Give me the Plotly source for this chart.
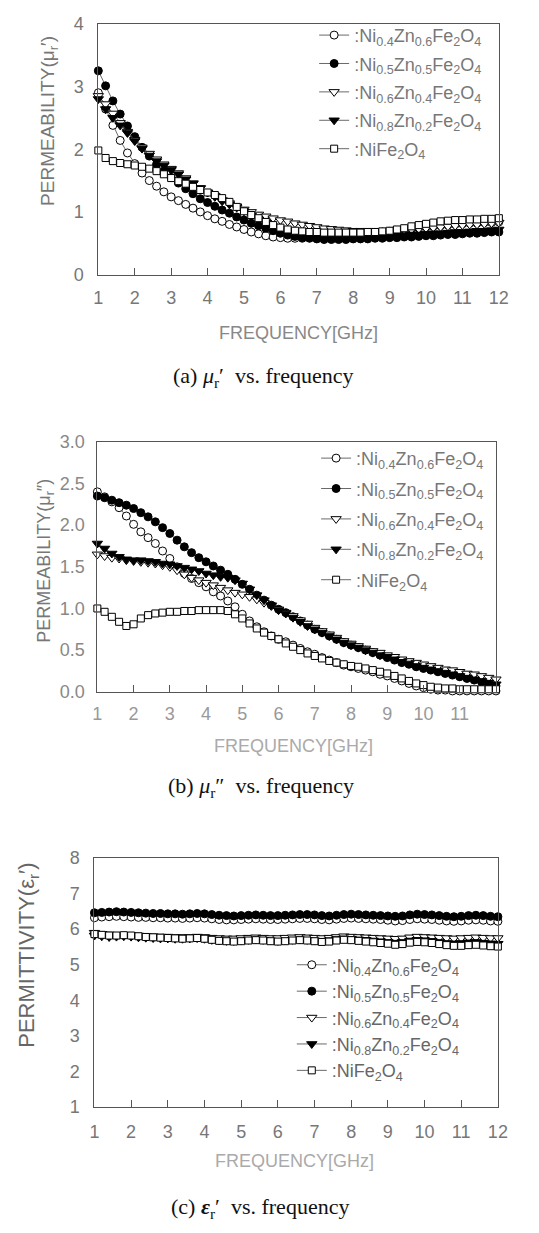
import plotly.graph_objects as go

W, H = 539, 1233

freq = [1.0, 1.2, 1.4, 1.6, 1.8, 2.0, 2.2, 2.4, 2.6, 2.8,
        3.0, 3.2, 3.4, 3.6, 3.8, 4.0, 4.2, 4.4, 4.6, 4.8,
        5.0, 5.2, 5.4, 5.6, 5.8, 6.0, 6.2, 6.4, 6.6, 6.8,
        7.0, 7.2, 7.4, 7.6, 7.8, 8.0, 8.2, 8.4, 8.6, 8.8,
        9.0, 9.2, 9.4, 9.6, 9.8, 10.0, 10.2, 10.4, 10.6, 10.8,
        11.0, 11.2, 11.4, 11.6, 11.8, 12.0]

names = [":Ni<sub>0.4</sub>Zn<sub>0.6</sub>Fe<sub>2</sub>O<sub>4</sub>",
         ":Ni<sub>0.5</sub>Zn<sub>0.5</sub>Fe<sub>2</sub>O<sub>4</sub>",
         ":Ni<sub>0.6</sub>Zn<sub>0.4</sub>Fe<sub>2</sub>O<sub>4</sub>",
         ":Ni<sub>0.8</sub>Zn<sub>0.2</sub>Fe<sub>2</sub>O<sub>4</sub>",
         ":NiFe<sub>2</sub>O<sub>4</sub>"]

# (a) mu_r'
mu1_ni04 = [2.90, 2.64, 2.38, 2.14, 1.94, 1.77, 1.62, 1.50, 1.41, 1.32,
            1.24, 1.18, 1.12, 1.06, 1.00, 0.94, 0.89, 0.85, 0.80, 0.76,
            0.72, 0.68, 0.65, 0.62, 0.60, 0.59, 0.58, 0.58, 0.58, 0.59,
            0.60, 0.61, 0.62, 0.63, 0.64, 0.64, 0.65, 0.66, 0.67, 0.68,
            0.69, 0.70, 0.71, 0.73, 0.74, 0.76, 0.77, 0.78, 0.79, 0.80,
            0.81, 0.82, 0.82, 0.83, 0.83, 0.84]
mu1_ni05 = [3.25, 3.01, 2.77, 2.56, 2.37, 2.20, 2.03, 1.89, 1.76, 1.65,
            1.55, 1.46, 1.37, 1.29, 1.21, 1.15, 1.09, 1.03, 0.98, 0.92,
            0.87, 0.82, 0.78, 0.74, 0.70, 0.66, 0.63, 0.61, 0.59, 0.58,
            0.57, 0.56, 0.56, 0.56, 0.56, 0.57, 0.57, 0.57, 0.58, 0.58,
            0.59, 0.59, 0.60, 0.60, 0.61, 0.62, 0.62, 0.63, 0.64, 0.64,
            0.65, 0.66, 0.66, 0.67, 0.68, 0.68]
mu1_ni06 = [2.85, 2.72, 2.57, 2.42, 2.28, 2.15, 2.03, 1.93, 1.84, 1.76,
            1.69, 1.62, 1.54, 1.46, 1.38, 1.31, 1.26, 1.19, 1.14, 1.09,
            1.04, 1.00, 0.96, 0.93, 0.90, 0.87, 0.85, 0.82, 0.80, 0.78,
            0.76, 0.74, 0.73, 0.72, 0.71, 0.70, 0.70, 0.70, 0.70, 0.70,
            0.70, 0.71, 0.71, 0.72, 0.73, 0.74, 0.75, 0.76, 0.77, 0.78,
            0.79, 0.80, 0.80, 0.81, 0.82, 0.83]
mu1_ni08 = [2.80, 2.64, 2.50, 2.38, 2.26, 2.13, 2.01, 1.90, 1.81, 1.74,
            1.67, 1.60, 1.52, 1.45, 1.38, 1.31, 1.24, 1.17, 1.12, 1.07,
            1.01, 0.94, 0.88, 0.83, 0.77, 0.72, 0.68, 0.65, 0.63, 0.62,
            0.61, 0.60, 0.60, 0.60, 0.60, 0.60, 0.60, 0.60, 0.61, 0.61,
            0.62, 0.62, 0.63, 0.64, 0.64, 0.65, 0.66, 0.66, 0.67, 0.68,
            0.68, 0.69, 0.70, 0.70, 0.71, 0.72]
mu1_ni10 = [1.98, 1.86, 1.81, 1.78, 1.76, 1.74, 1.72, 1.69, 1.65, 1.60,
            1.54, 1.49, 1.45, 1.40, 1.35, 1.31, 1.27, 1.22, 1.16, 1.08,
            1.01, 0.95, 0.90, 0.84, 0.79, 0.75, 0.72, 0.70, 0.69, 0.68,
            0.68, 0.67, 0.67, 0.67, 0.67, 0.67, 0.67, 0.68, 0.68, 0.69,
            0.70, 0.72, 0.74, 0.77, 0.79, 0.81, 0.83, 0.85, 0.86, 0.87,
            0.87, 0.88, 0.88, 0.89, 0.89, 0.90]

# (b) mu_r''
mu2_ni04 = [2.40, 2.34, 2.28, 2.21, 2.11, 2.01, 1.92, 1.85, 1.78, 1.69,
            1.60, 1.50, 1.42, 1.36, 1.31, 1.26, 1.20, 1.15, 1.09, 1.02,
            0.93, 0.85, 0.78, 0.72, 0.67, 0.63, 0.60, 0.56, 0.52, 0.48,
            0.45, 0.41, 0.38, 0.35, 0.32, 0.30, 0.28, 0.26, 0.24, 0.21,
            0.19, 0.16, 0.13, 0.10, 0.07, 0.05, 0.03, 0.02, 0.02, 0.01,
            0.01, 0.01, 0.01, 0.01, 0.01, 0.01]
mu2_ni05 = [2.35, 2.33, 2.30, 2.27, 2.24, 2.20, 2.15, 2.10, 2.04, 1.97,
            1.90, 1.82, 1.74, 1.67, 1.61, 1.56, 1.51, 1.46, 1.41, 1.35,
            1.29, 1.23, 1.16, 1.10, 1.04, 0.99, 0.95, 0.90, 0.85, 0.80,
            0.75, 0.71, 0.67, 0.63, 0.59, 0.56, 0.53, 0.50, 0.47, 0.44,
            0.41, 0.38, 0.35, 0.33, 0.30, 0.28, 0.26, 0.24, 0.22, 0.20,
            0.18, 0.16, 0.14, 0.12, 0.09, 0.07]
mu2_ni06 = [1.65, 1.63, 1.61, 1.60, 1.58, 1.57, 1.56, 1.55, 1.54, 1.52,
            1.50, 1.46, 1.41, 1.37, 1.34, 1.31, 1.28, 1.25, 1.22, 1.19,
            1.17, 1.14, 1.11, 1.07, 1.03, 0.99, 0.95, 0.91, 0.86, 0.82,
            0.77, 0.73, 0.69, 0.65, 0.61, 0.58, 0.55, 0.52, 0.49, 0.47,
            0.44, 0.42, 0.39, 0.37, 0.35, 0.33, 0.31, 0.29, 0.27, 0.26,
            0.24, 0.22, 0.21, 0.19, 0.17, 0.15]
mu2_ni08 = [1.78, 1.72, 1.66, 1.62, 1.59, 1.58, 1.58, 1.57, 1.56, 1.54,
            1.53, 1.51, 1.49, 1.47, 1.45, 1.42, 1.40, 1.38, 1.37, 1.34,
            1.30, 1.23, 1.16, 1.10, 1.04, 0.98, 0.94, 0.89, 0.84, 0.79,
            0.75, 0.71, 0.67, 0.63, 0.59, 0.56, 0.53, 0.50, 0.47, 0.44,
            0.42, 0.39, 0.36, 0.34, 0.31, 0.29, 0.27, 0.25, 0.23, 0.21,
            0.19, 0.17, 0.15, 0.13, 0.11, 0.09]
mu2_ni10 = [1.00, 0.96, 0.90, 0.84, 0.79, 0.81, 0.88, 0.92, 0.94, 0.95,
            0.96, 0.96, 0.97, 0.97, 0.98, 0.98, 0.98, 0.98, 0.97, 0.93,
            0.88, 0.82, 0.76, 0.71, 0.67, 0.63, 0.58, 0.54, 0.50, 0.46,
            0.43, 0.40, 0.37, 0.35, 0.33, 0.31, 0.30, 0.28, 0.26, 0.24,
            0.22, 0.19, 0.16, 0.13, 0.10, 0.08, 0.06, 0.05, 0.04, 0.04,
            0.03, 0.03, 0.03, 0.03, 0.03, 0.03]

# (c) eps_r'
eps_ni04 = [6.32, 6.34, 6.35, 6.36, 6.35, 6.34, 6.33, 6.33, 6.32, 6.32,
            6.31, 6.31, 6.30, 6.31, 6.32, 6.31, 6.29, 6.27, 6.26, 6.26,
            6.27, 6.28, 6.29, 6.28, 6.27, 6.27, 6.28, 6.29, 6.30, 6.30,
            6.29, 6.27, 6.26, 6.28, 6.30, 6.31, 6.30, 6.29, 6.28, 6.27,
            6.25, 6.23, 6.24, 6.27, 6.29, 6.28, 6.27, 6.25, 6.23, 6.22,
            6.23, 6.25, 6.26, 6.25, 6.23, 6.22]
eps_ni05 = [6.46, 6.47, 6.48, 6.49, 6.48, 6.47, 6.46, 6.45, 6.44, 6.44,
            6.43, 6.43, 6.42, 6.43, 6.44, 6.43, 6.41, 6.39, 6.38, 6.37,
            6.38, 6.39, 6.40, 6.39, 6.38, 6.38, 6.39, 6.40, 6.41, 6.41,
            6.40, 6.38, 6.37, 6.39, 6.41, 6.42, 6.41, 6.40, 6.39, 6.38,
            6.37, 6.36, 6.37, 6.40, 6.42, 6.41, 6.40, 6.38, 6.36, 6.35,
            6.36, 6.38, 6.39, 6.38, 6.36, 6.35]
eps_ni06 = [5.90, 5.87, 5.85, 5.84, 5.84, 5.83, 5.82, 5.81, 5.80, 5.79,
            5.79, 5.78, 5.78, 5.78, 5.79, 5.78, 5.76, 5.75, 5.74, 5.74,
            5.75, 5.76, 5.77, 5.76, 5.75, 5.75, 5.76, 5.77, 5.78, 5.77,
            5.76, 5.75, 5.76, 5.78, 5.80, 5.79, 5.78, 5.77, 5.76, 5.75,
            5.74, 5.73, 5.74, 5.77, 5.79, 5.78, 5.77, 5.76, 5.75, 5.74,
            5.75, 5.76, 5.77, 5.76, 5.75, 5.75]
eps_ni08 = [5.82, 5.80, 5.78, 5.79, 5.80, 5.79, 5.77, 5.76, 5.75, 5.74,
            5.74, 5.73, 5.73, 5.74, 5.75, 5.73, 5.70, 5.68, 5.67, 5.67,
            5.68, 5.70, 5.71, 5.70, 5.68, 5.67, 5.68, 5.70, 5.71, 5.70,
            5.68, 5.67, 5.69, 5.72, 5.74, 5.73, 5.71, 5.70, 5.68, 5.66,
            5.64, 5.62, 5.64, 5.68, 5.70, 5.69, 5.67, 5.64, 5.61, 5.60,
            5.61, 5.63, 5.64, 5.62, 5.60, 5.59]
eps_ni10 = [5.86, 5.84, 5.82, 5.82, 5.83, 5.82, 5.80, 5.78, 5.77, 5.76,
            5.75, 5.74, 5.73, 5.74, 5.75, 5.73, 5.70, 5.67, 5.66, 5.65,
            5.66, 5.68, 5.69, 5.68, 5.66, 5.65, 5.66, 5.68, 5.69, 5.68,
            5.66, 5.64, 5.65, 5.68, 5.70, 5.69, 5.67, 5.65, 5.63, 5.61,
            5.59, 5.56, 5.58, 5.62, 5.64, 5.63, 5.61, 5.58, 5.55, 5.53,
            5.53, 5.55, 5.56, 5.54, 5.52, 5.51]

panels = [
    [mu1_ni04, mu1_ni05, mu1_ni06, mu1_ni08, mu1_ni10],
    [mu2_ni04, mu2_ni05, mu2_ni06, mu2_ni08, mu2_ni10],
    [eps_ni04, eps_ni05, eps_ni06, eps_ni08, eps_ni10],
]

symbols = ["circle", "circle", "triangle-down", "triangle-down", "square"]
fills = ["white", "black", "white", "black", "white"]
sizes = [8, 8, 9, 9, 7]

fig = go.Figure()
axis_ids = [("x", "y", "legend"), ("x2", "y2", "legend2"), ("x3", "y3", "legend3")]
for p, series in enumerate(panels):
    xa, ya, lg = axis_ids[p]
    for k in range(5):
        fig.add_trace(go.Scatter(
            x=freq, y=series[k], name=names[k], mode="lines+markers",
            xaxis=xa, yaxis=ya, legend=lg, legendgroup=f"g{p}{k}",
            legendrank=k + 1,
            line=dict(color="#444", width=0.8),
            marker=dict(symbol=symbols[k], size=sizes[k], color=fills[k],
                        line=dict(color="black", width=1)),
            cliponaxis=False,
        ))


def px_x(v):
    return v / W


def px_y(v):
    return (H - v) / H


axis_common = dict(showline=True, mirror=True, linecolor="#555", linewidth=1,
                   showgrid=False, zeroline=False)
tickfont = dict(family="Liberation Sans", size=18, color="#777")

fig.update_layout(
    width=W, height=H, autosize=False,
    margin=dict(l=0, r=0, t=0, b=0),
    paper_bgcolor="white", plot_bgcolor="white",
    showlegend=True,
    xaxis=dict(domain=[px_x(96), px_x(508)], range=[1, 12], anchor="y",
               tickvals=list(range(1, 13)), ticks="inside", ticklen=7,
               tickcolor="#555", tickfont=tickfont, ticklabelstandoff=7,
               **axis_common),
    yaxis=dict(domain=[px_y(269), px_y(14)], range=[0, 4], anchor="x",
               tickvals=[0, 1, 2, 3, 4], ticks="", tickfont=tickfont,
               ticklabelstandoff=10, **axis_common),
    xaxis2=dict(domain=[px_x(95), px_x(505)], range=[1, 12], anchor="y2",
                tickvals=list(range(1, 12)), ticks="inside", ticklen=7,
                tickcolor="#555", tickfont=dict(tickfont, color="#999"),
                ticklabelstandoff=6, **axis_common),
    yaxis2=dict(domain=[px_y(693), px_y(439)], range=[0, 3], anchor="x2",
                tickvals=[0, 0.5, 1.0, 1.5, 2.0, 2.5, 3.0], tickformat=".1f",
                ticks="", tickfont=dict(tickfont, color="#888"),
                ticklabelstandoff=8, **axis_common),
    xaxis3=dict(domain=[px_x(92), px_x(507)], range=[1, 12], anchor="y3",
                tickvals=list(range(1, 13)), ticks="inside", ticklen=7,
                tickcolor="#555", tickfont=tickfont, ticklabelstandoff=8,
                **axis_common),
    yaxis3=dict(domain=[px_y(1115), px_y(862)], range=[1, 8], anchor="x3",
                tickvals=list(range(1, 9)), ticks="", tickfont=tickfont,
                ticklabelstandoff=10, **axis_common),
    legend=dict(x=px_x(318), y=px_y(7), xanchor="left", yanchor="top",
                bgcolor="rgba(0,0,0,0)", traceorder="grouped",
                tracegroupgap=2,
                font=dict(family="Liberation Sans", size=18, color="#777")),
    legend2=dict(x=px_x(320), y=px_y(437), xanchor="left", yanchor="top",
                 bgcolor="rgba(0,0,0,0)", traceorder="grouped",
                 tracegroupgap=4,
                 font=dict(family="Liberation Sans", size=18, color="#777")),
    legend3=dict(x=px_x(295), y=px_y(952), xanchor="left", yanchor="top",
                 bgcolor="rgba(0,0,0,0)", traceorder="grouped",
                 tracegroupgap=0,
                 font=dict(family="Liberation Sans", size=18, color="#666")),
)

ann = []
ytitle_font = dict(family="Liberation Sans", size=19, color="#777")
ann.append(dict(text="PERMEABILITY(μ<sub>r</sub>′)", x=px_x(45), y=px_y(113),
                textangle=-90, font=ytitle_font))
ann.append(dict(text="PERMEABILITY(μ<sub>r</sub>″)", x=px_x(42), y=px_y(560),
                textangle=-90, font=dict(ytitle_font, size=18)))
ann.append(dict(text="PERMITTIVITY(ε<sub>r</sub>′)", x=px_x(24), y=px_y(961),
                textangle=-90, font=dict(ytitle_font, size=22, color="#666")))
xt_font = dict(family="Liberation Sans", size=18, color="#888")
ann.append(dict(text="FREQUENCY[GHz]", x=px_x(302), y=px_y(328), font=xt_font))
ann.append(dict(text="FREQUENCY[GHz]", x=px_x(297), y=px_y(748),
                font=dict(xt_font, color="#aaa")))
ann.append(dict(text="FREQUENCY[GHz]", x=px_x(298), y=px_y(1170),
                font=dict(xt_font, color="#aaa")))
cap_font = dict(family="Liberation Serif", size=22, color="#111")
ann.append(dict(text="(a) <i>μ</i><sub>r</sub>′  vs. frequency", x=px_x(265),
                y=px_y(373), font=cap_font))
ann.append(dict(text="(b) <i>μ</i><sub>r</sub>″  vs. frequency", x=px_x(263),
                y=px_y(790), font=cap_font))
ann.append(dict(text="(c) <b><i>ε</i></b><sub>r</sub>′  vs. frequency", x=px_x(262),
                y=px_y(1218), font=cap_font))
for a in ann:
    a.update(xref="paper", yref="paper", showarrow=False,
             xanchor="center", yanchor="middle")
fig.update_layout(annotations=ann)

fig.write_html("out.html")
